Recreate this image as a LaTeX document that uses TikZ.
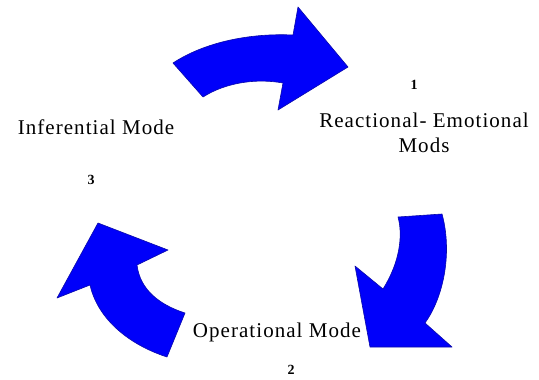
\documentclass[tikz,border=0pt]{standalone}
\usepackage{fontspec}
\setmainfont{Liberation Serif}
\definecolor{arrowblue}{RGB}{0,0,250}
\definecolor{arrowedge}{RGB}{10,10,170}
\begin{document}
\begin{tikzpicture}[x=1pt,y=-1pt,
  bigarrow/.style={fill=arrowblue,draw=arrowedge,line width=0.6pt,line join=round},
  modelabel/.style={anchor=base,inner sep=0pt,font=\fontsize{21}{25}\selectfont\addfontfeature{LetterSpace=5},align=center},
  numlabel/.style={inner sep=0pt,font=\fontsize{14}{16}\selectfont\bfseries}]
\useasboundingbox (0,0) rectangle (539,380);
% top arrow
\draw[bigarrow] (173,63) .. controls (205,42) and (250,33) .. (293,35)
  -- (298,7) -- (348,67) -- (278,110) -- (283,83)
  .. controls (255,78) and (225,83) .. (203,97) -- cycle;
% right arrow
\draw[bigarrow] (398,217) -- (442,214) .. controls (452,250) and (445,295) .. (425,323)
  -- (452,347) -- (370,347) -- (355,266) -- (383,289)
  .. controls (400,262) and (403,235) .. (398,217) -- cycle;
% left arrow
\draw[bigarrow] (98,223) -- (168,250) -- (137,265)
  .. controls (140,290) and (160,305) .. (185,313)
  -- (167,357) .. controls (130,345) and (98,320) .. (90,285)
  -- (57,298) -- cycle;
% labels
\node[modelabel] (react) at (424,127) {Reactional- Emotional};
\node[modelabel] (mods) at (424,152) {Mods};
\node[modelabel] (infer) at (96,134) {Inferential Mode};
\node[modelabel] (oper) at (277,337) {Operational Mode};
\node[numlabel] (n1) at (414,85) {1};
\node[numlabel] (n2) at (291,370) {2};
\node[numlabel] (n3) at (91,180) {3};
\end{tikzpicture}
\end{document}
